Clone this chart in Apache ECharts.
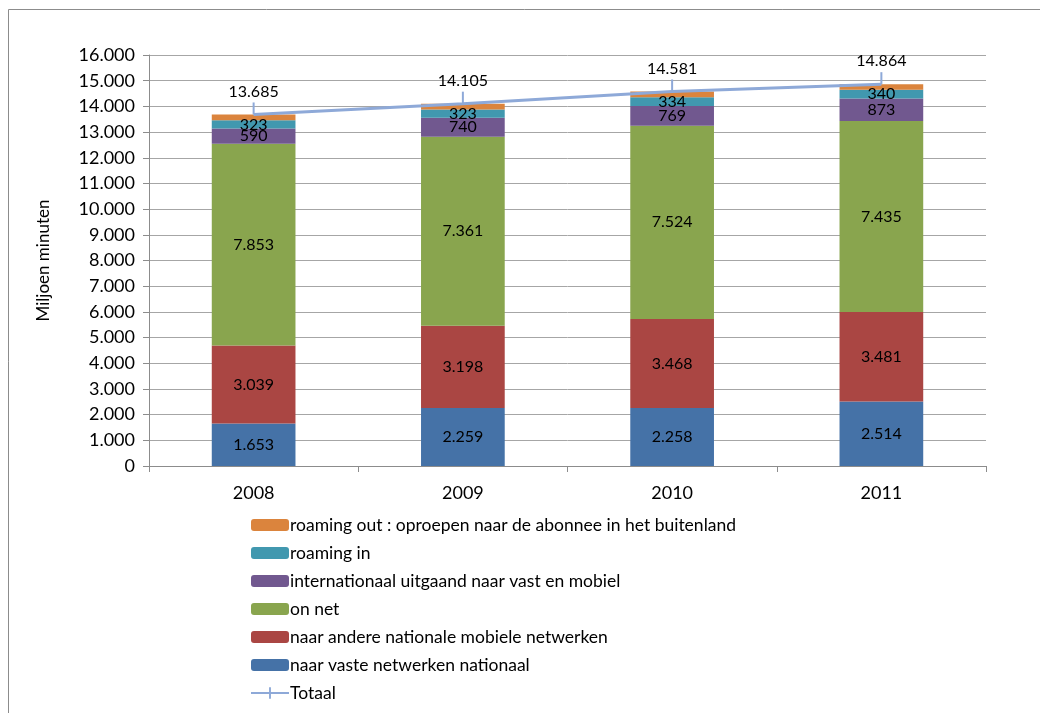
<!DOCTYPE html>
<html>
<head>
<meta charset="utf-8">
<script src="https://cdn.jsdelivr.net/npm/echarts@6/dist/echarts.min.js"></script>
<style>
  html, body { margin: 0; padding: 0; background: #fff; }
  #chart { width: 1040px; height: 713px; }
</style>
</head>
<body>
<div id="chart"></div>
<script>
const years = ['2008', '2009', '2010', '2011']
const vasteNationaal = [1653, 2259, 2258, 2514]
const andereMobiel = [3039, 3198, 3468, 3481]
const onNet = [7853, 7361, 7524, 7435]
const internationaal = [590, 740, 769, 873]
const roamingIn = [323, 323, 334, 340]
const roamingOut = [227, 224, 228, 221]
const totaal = [13685, 14105, 14581, 14864]

const fmt = v => {
  const s = String(Math.round(v))
  return s.replace(/\B(?=(\d{3})+(?!\d))/g, '.')
}

const font = 'Lato, "Open Sans", sans-serif'
const barLabel = { show: true, color: '#000', fontSize: 16, fontFamily: font, formatter: p => fmt(p.value) }

function bar(name, data, color, showLabel) {
  return {
    name: name,
    type: 'bar',
    stack: 'total',
    barWidth: '40%',
    data: data,
    itemStyle: { color: color },
    label: showLabel ? barLabel : { show: false },
    emphasis: { disabled: true }
  }
}

const chart = echarts.init(document.getElementById('chart'))
chart.setOption({
  animation: false,
  graphic: [{
    type: 'rect',
    shape: { x: 8.5, y: 9.5, width: 1040, height: 713 },
    style: { fill: 'none', stroke: '#8c8c8c', lineWidth: 1 }
  }],
  grid: { left: 149, right: 54, top: 55, bottom: 247 },
  legend: {
    orient: 'vertical',
    left: 246,
    top: 511,
    itemGap: 10,
    itemWidth: 38,
    itemHeight: 12,
    textStyle: { fontSize: 17.5, fontFamily: font, color: '#000', padding: [0, 0, 0, -4] },
    data: [
      'roaming out : oproepen naar de abonnee in het buitenland',
      'roaming in',
      'internationaal uitgaand naar vast en mobiel',
      'on net',
      'naar andere nationale mobiele netwerken',
      'naar vaste netwerken nationaal',
      { name: 'Totaal', icon: 'path://M0,5L19,5L19,0L21,0L21,5L40,5L40,7L21,7L21,12L19,12L19,7L0,7Z' }
    ]
  },
  xAxis: {
    type: 'category',
    data: years,
    axisLine: { lineStyle: { color: '#8c8c8c' } },
    axisTick: { show: true, length: 6, lineStyle: { color: '#8c8c8c' } },
    axisLabel: { fontSize: 18, fontFamily: font, color: '#000', margin: 18 }
  },
  yAxis: {
    type: 'value',
    name: 'Miljoen minuten',
    nameLocation: 'middle',
    nameGap: 97,
    nameTextStyle: { fontSize: 17, fontFamily: font, color: '#000' },
    min: 0,
    max: 16000,
    interval: 1000,
    axisLine: { show: true, lineStyle: { color: '#8c8c8c' } },
    axisTick: { show: true, length: 6, lineStyle: { color: '#8c8c8c' } },
    axisLabel: { fontSize: 18, fontFamily: font, color: '#000', margin: 14, formatter: v => fmt(v) },
    splitLine: { lineStyle: { color: '#a6a6a6', width: 1 } }
  },
  series: [
    bar('naar vaste netwerken nationaal', vasteNationaal, '#4572A7', true),
    bar('naar andere nationale mobiele netwerken', andereMobiel, '#AA4643', true),
    bar('on net', onNet, '#89A54E', true),
    bar('internationaal uitgaand naar vast en mobiel', internationaal, '#71588F', true),
    bar('roaming in', roamingIn, '#4198AF', true),
    bar('roaming out : oproepen naar de abonnee in het buitenland', roamingOut, '#DB843D', false),
    {
      name: 'Totaal',
      type: 'line',
      data: totaal,
      z: 5,
      lineStyle: { color: '#8EA9D8', width: 3 },
      itemStyle: { color: '#8EA9D8' },
      symbol: 'rect',
      symbolSize: [2, 12],
      symbolOffset: [0, -6],
      label: {
        show: true,
        position: 'top',
        distance: 3,
        color: '#000',
        fontSize: 16,
        fontFamily: font,
        formatter: p => fmt(p.value)
      },
      emphasis: { disabled: true }
    }
  ]
})
</script>
</body>
</html>
